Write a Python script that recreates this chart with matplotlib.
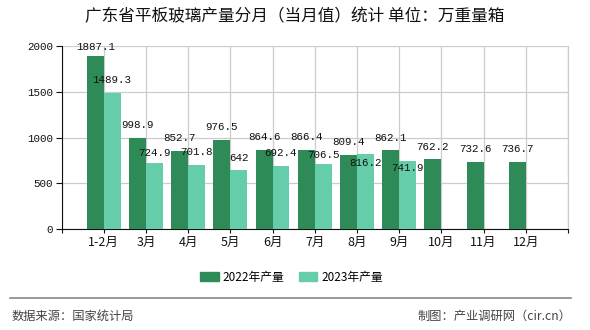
import numpy as np
import matplotlib
matplotlib.use('Agg')
from matplotlib import pyplot as plt
from matplotlib.patches import Patch

# data
months = ['1-2月', '3月', '4月', '5月', '6月', '7月', '8月', '9月',
          '10月', '11月', '12月']
prod_2022 = [1887.1, 998.9, 852.7, 976.5, 864.6, 866.4, 809.4, 862.1,
             762.2, 732.6, 736.7]
prod_2023 = [1489.3, 724.9, 701.8, 642, 692.4, 706.5, 816.2, 741.9,
             None, None, None]
series_names = ['2022年产量', '2023年产量']

title = '广东省平板玻璃产量分月（当月值）统计 单位：万重量箱'
source = '数据来源：国家统计局'
credit = '制图：产业调研网（cir.cn）'

plt.rcParams['font.family'] = ['Noto Sans CJK SC', 'DejaVu Sans']

c_dark = '#2E8B57'
c_light = '#66CDAA'
num_font = 'Liberation Mono'

fig = plt.figure(figsize=(5.9, 3.3), dpi=100)
ax = fig.add_axes([61.5 / 590, 1 - 229 / 330, (568 - 61.5) / 590, 183 / 330])

x = np.arange(len(months))
w = 0.4
v23 = np.array([np.nan if v is None else v for v in prod_2023])

ax.bar(x - w / 2, prod_2022, width=w, color=c_dark, zorder=3)
ax.bar(x + w / 2, v23, width=w, color=c_light, zorder=3)

# value labels (a few nudged like the original to avoid overlap)
nudge_23 = {1: -3, 5: -3, 6: -21.5, 7: -19.5}
nudge_22 = {0: -3}
for i, v in enumerate(prod_2022):
    dy = 12.5 + nudge_22.get(i, 0)
    ax.annotate('%g' % v, (x[i] - w / 2, v), xytext=(0, dy * 0.72),
                textcoords='offset points', ha='center', va='center',
                fontsize=7.8, family=num_font, color='#111111', zorder=5)
for i, v in enumerate(v23):
    if np.isnan(v):
        continue
    dy = 12.5 + nudge_23.get(i, 0)
    ax.annotate('%g' % v, (x[i] + w / 2, v), xytext=(0, dy * 0.72),
                textcoords='offset points', ha='center', va='center',
                fontsize=7.8, family=num_font, color='#111111', zorder=5)

# axes
ax.set_xlim(-1, len(months))
ax.set_ylim(0, 2000)
ax.set_yticks([0, 500, 1000, 1500, 2000])
ax.set_xticks(np.arange(-1, len(months) + 1))
ax.set_xticklabels([''] + months + [''], fontsize=9)
ax.tick_params(axis='x', length=3, pad=2, colors='#111111')
ax.tick_params(axis='y', length=4, pad=2, colors='#111111')
for lab in ax.get_yticklabels():
    lab.set_family(num_font)
    lab.set_fontsize(7.8)

ax.grid(True, color='#cccccc', linewidth=0.9, zorder=0)
ax.spines['top'].set_visible(False)
ax.spines['right'].set_color('#cccccc')
ax.spines['right'].set_linewidth(0.9)
ax.spines['left'].set_color('#111111')
ax.spines['bottom'].set_color('#111111')

# title
fig.text(0.5, 1 - 17 / 330, title, ha='center', va='center', fontsize=12,
         color='#111111')

# legend
handles = [Patch(color=c_dark), Patch(color=c_light)]
fig.legend(handles, series_names, loc='center', bbox_to_anchor=(0.494, 1 - 277 / 330),
           ncol=2, frameon=False, fontsize=8.5, handlelength=1.6,
           handleheight=0.7, handletextpad=0.3, columnspacing=1.2)

# footer
fig.add_artist(plt.Line2D([10 / 590, 571 / 590], [1 - 298 / 330] * 2,
                          color='#888888', linewidth=1.2))
fig.text(12 / 590, 1 - 316 / 330, source, ha='left', va='center',
         fontsize=8.8, color='#444444')
fig.text(571 / 590, 1 - 316 / 330, credit, ha='right', va='center',
         fontsize=8.8, color='#444444')

fig.savefig('out.png', dpi=100)
